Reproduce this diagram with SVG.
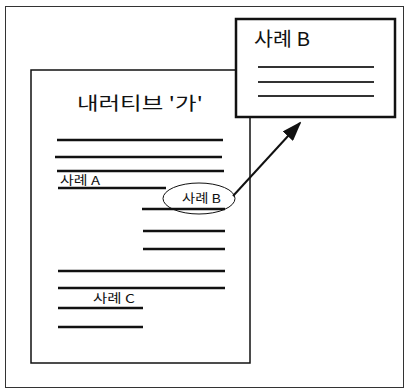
<svg xmlns="http://www.w3.org/2000/svg" width="405" height="389" viewBox="0 0 405 389">
<style>
.txt{font-family:"Noto Sans CJK KR","DejaVu Sans",sans-serif;fill:#111}
.rule{stroke:#111;stroke-width:2.5;fill:none}
.rule2{stroke:#333;stroke-width:2;fill:none}
</style>
<defs>
<marker id="ah" viewBox="0 0 10 10" preserveAspectRatio="none" refX="9" refY="5" markerWidth="10" markerHeight="7" orient="auto" markerUnits="strokeWidth">
<path d="M0,0 L10,5 L0,10 z" fill="#111"/>
</marker>
</defs>
<rect width="405" height="389" fill="#fff"/>
<rect id="frame" x="5.5" y="6.5" width="398" height="381" fill="none" stroke="#333" stroke-width="1"/>
<g id="document">
<rect x="31" y="70" width="219" height="293" fill="#fff" stroke="#111" stroke-width="1.5"/>
<text class="txt" x="77" y="110" font-size="18" textLength="126" lengthAdjust="spacingAndGlyphs">내러티브 '가'</text>
<line class="rule" x1="57" y1="140" x2="223" y2="140"/>
<line class="rule" x1="55" y1="157" x2="222" y2="157"/>
<line class="rule" x1="57" y1="171" x2="224" y2="171"/>
<text class="txt" x="60" y="185" font-size="12" textLength="40" lengthAdjust="spacingAndGlyphs">사례 A</text>
<line class="rule" x1="58" y1="188" x2="166" y2="188"/>
<line class="rule" x1="142" y1="209" x2="225" y2="209"/>
<line class="rule" x1="143" y1="231" x2="225" y2="231"/>
<line class="rule" x1="143" y1="249" x2="225" y2="249"/>
<line class="rule" x1="58" y1="271" x2="225" y2="271"/>
<line class="rule" x1="58" y1="288" x2="225" y2="288"/>
<text class="txt" x="93" y="303" font-size="12" textLength="42" lengthAdjust="spacingAndGlyphs">사례 C</text>
<line class="rule" x1="58" y1="308" x2="143" y2="308"/>
<line class="rule" x1="58" y1="327" x2="143" y2="327"/>
</g>
<g id="highlight">
<ellipse cx="199" cy="198.5" rx="36" ry="15.5" fill="none" stroke="#111" stroke-width="1"/>
<text class="txt" x="182" y="203" font-size="12" textLength="39" lengthAdjust="spacingAndGlyphs">사례 B</text>
</g>
<g id="detail">
<rect x="236" y="19" width="159" height="98" fill="#fff" stroke="#111" stroke-width="2.5"/>
<text class="txt" x="254" y="46" font-size="19" textLength="56" lengthAdjust="spacingAndGlyphs">사례 B</text>
<line class="rule2" x1="258" y1="67" x2="374" y2="67"/>
<line class="rule2" x1="258" y1="82" x2="374" y2="82"/>
<line class="rule2" x1="258" y1="96" x2="374" y2="96"/>
</g>
<g id="connectors">
<line x1="233" y1="196" x2="300" y2="123" stroke="#111" stroke-width="2" marker-end="url(#ah)"/>
</g>
</svg>
